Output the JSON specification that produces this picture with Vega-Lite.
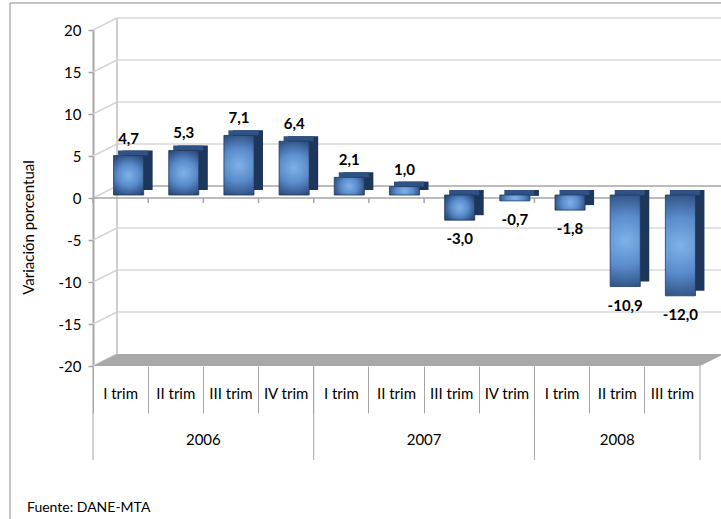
{
  "$schema": "https://vega.github.io/schema/vega-lite/v6.json",
  "width": 607,
  "height": 336,
  "autosize": "none",
  "padding": {"left": 93, "top": 30, "right": 21, "bottom": 153},
  "background": "white",
  "config": {
    "view": {"stroke": null},
    "font": "Lato",
    "locale": {"number": {"decimal": ",", "thousands": ".", "grouping": [3], "currency": ["$", ""], "minus": "-"}}
  },
  "datasets": {
    "q": [
      {"q": "2006 I trim", "anio": "2006", "trim": "I trim", "v": 4.7},
      {"q": "2006 II trim", "anio": "2006", "trim": "II trim", "v": 5.3},
      {"q": "2006 III trim", "anio": "2006", "trim": "III trim", "v": 7.1},
      {"q": "2006 IV trim", "anio": "2006", "trim": "IV trim", "v": 6.4},
      {"q": "2007 I trim", "anio": "2007", "trim": "I trim", "v": 2.1},
      {"q": "2007 II trim", "anio": "2007", "trim": "II trim", "v": 1.0},
      {"q": "2007 III trim", "anio": "2007", "trim": "III trim", "v": -3.0},
      {"q": "2007 IV trim", "anio": "2007", "trim": "IV trim", "v": -0.7},
      {"q": "2008 I trim", "anio": "2008", "trim": "I trim", "v": -1.8},
      {"q": "2008 II trim", "anio": "2008", "trim": "II trim", "v": -10.9},
      {"q": "2008 III trim", "anio": "2008", "trim": "III trim", "v": -12.0}
    ],
    "ticks": [
      {"t": -20}, {"t": -15}, {"t": -10}, {"t": -5}, {"t": 0},
      {"t": 5}, {"t": 10}, {"t": 15}, {"t": 20}
    ],
    "one": [{}]
  },
  "layer": [
    {
      "data": {"name": "q"},
      "mark": {"type": "bar", "width": {"band": 0.545}, "xOffset": 8, "yOffset": -3, "y2Offset": -3, "opacity": 0},
      "encoding": {
        "x": {"field": "q", "type": "nominal", "sort": null,
          "scale": {"type": "band", "paddingInner": 0, "paddingOuter": 0,
            "domain": ["2006 I trim", "2006 II trim", "2006 III trim", "2006 IV trim", "2007 I trim", "2007 II trim", "2007 III trim", "2007 IV trim", "2008 I trim", "2008 II trim", "2008 III trim"]},
          "axis": {"title": null, "domain": false, "grid": false, "bandPosition": 0, "ticks": true, "tickSize": 47, "tickColor": "#a6a6a6", "tickWidth": 1,
            "labelExpr": "slice(datum.label, 5)", "labelOffset": 0, "labelPadding": -20, "labelBaseline": "middle", "labelAlign": "center", "labelAngle": 0,
            "labelFont": "Lato", "labelFontSize": 15, "labelColor": "#000000", "labelOverlap": false, "labelBound": false}},
        "y": {"field": "v", "type": "quantitative",
          "scale": {"domain": [-20, 20], "nice": false, "zero": false},
          "axis": {"title": "Variación porcentual", "values": [-20, -15, -10, -5, 0, 5, 10, 15, 20], "format": "d", "grid": false,
            "domain": true, "domainColor": "#a6a6a6", "domainWidth": 2, "tickColor": "#a6a6a6", "tickSize": 5, "tickWidth": 1.5,
            "labelPadding": 7, "labelFont": "Lato", "labelFontSize": 15, "labelColor": "#000000",
            "titleFont": "Lato", "titleFontSize": 15, "titleFontWeight": "normal", "titleColor": "#000000",
            "titleX": -65, "titleY": 197, "titleAngle": 270, "titleAlign": "center", "titleBaseline": "middle"}},
        "y2": {"datum": 0}
      }
    },
    {
      "data": {"name": "one"},
      "mark": {"type": "rule", "color": "#8c8c8c", "strokeWidth": 1, "xOffset": -83, "x2Offset": 21, "yOffset": -27},
      "encoding": {
        "x": {"datum": "2006 I trim", "type": "nominal", "bandPosition": 0},
        "x2": {"datum": "2008 III trim", "bandPosition": 1},
        "y": {"datum": 20, "type": "quantitative"}
      }
    },
    {
      "data": {"name": "one"},
      "mark": {"type": "rule", "color": "#8c8c8c", "strokeWidth": 1, "xOffset": -83, "yOffset": -27, "y2Offset": 153},
      "encoding": {
        "x": {"datum": "2006 I trim", "type": "nominal", "bandPosition": 0},
        "y": {"datum": 20, "type": "quantitative"},
        "y2": {"datum": -20}
      }
    },
    {
      "data": {"name": "ticks"},
      "transform": [{"filter": "datum.t > -20"}],
      "mark": {"type": "rule", "strokeWidth": 2, "xOffset": 24, "x2Offset": 21, "yOffset": -12},
      "encoding": {
        "x": {"datum": "2006 I trim", "type": "nominal", "bandPosition": 0},
        "x2": {"datum": "2008 III trim", "bandPosition": 1},
        "y": {"field": "t", "type": "quantitative"},
        "color": {"condition": {"test": "datum.t == 0", "value": "#bdbdbd"}, "value": "#e2e2e2"}
      }
    },
    {
      "data": {"name": "ticks"},
      "mark": {"type": "rule", "strokeWidth": 1.5, "color": "#d4d4d4", "x2Offset": 24, "y2Offset": -12},
      "encoding": {
        "x": {"datum": "2006 I trim", "type": "nominal", "bandPosition": 0},
        "x2": {"datum": "2006 I trim", "bandPosition": 0},
        "y": {"field": "t", "type": "quantitative"},
        "y2": {"field": "t"}
      }
    },
    {
      "data": {"name": "one"},
      "mark": {"type": "rule", "color": "#cfcfcf", "strokeWidth": 2, "xOffset": 24, "yOffset": -12, "y2Offset": -12},
      "encoding": {
        "x": {"datum": "2006 I trim", "type": "nominal", "bandPosition": 0},
        "y": {"datum": 20, "type": "quantitative"},
        "y2": {"datum": -20}
      }
    },
    {
      "data": {"name": "one"},
      "mark": {"type": "point", "shape": "M0,0L607,0L631,-12L24,-12Z", "size": 4, "filled": true, "fill": "#a8a8a8", "opacity": 1, "strokeWidth": 0},
      "encoding": {
        "x": {"datum": "2006 I trim", "type": "nominal", "bandPosition": 0},
        "y": {"datum": -20, "type": "quantitative"}
      }
    },
    {
      "data": {"name": "one"},
      "mark": {"type": "rule", "color": "#a6a6a6", "strokeWidth": 1.5},
      "encoding": {
        "x": {"datum": "2006 I trim", "type": "nominal", "bandPosition": 0},
        "x2": {"datum": "2008 III trim", "bandPosition": 1},
        "y": {"datum": 0, "type": "quantitative"}
      }
    },
    {
      "data": {"name": "q"},
      "mark": {"type": "rule", "color": "#a6a6a6", "strokeWidth": 1.5, "y2Offset": 5},
      "encoding": {
        "x": {"field": "q", "type": "nominal", "bandPosition": 0},
        "y": {"datum": 0, "type": "quantitative"},
        "y2": {"datum": 0}
      }
    },
    {
      "data": {"name": "one"},
      "mark": {"type": "rule", "color": "#a6a6a6", "strokeWidth": 1.5, "y2Offset": 5},
      "encoding": {
        "x": {"datum": "2008 III trim", "type": "nominal", "bandPosition": 1},
        "y": {"datum": 0, "type": "quantitative"},
        "y2": {"datum": 0}
      }
    },
    {
      "data": {"name": "q"},
      "transform": [{"filter": "datum.trim == 'I trim'"}],
      "mark": {"type": "rule", "color": "#a6a6a6", "strokeWidth": 1, "y2Offset": 94},
      "encoding": {
        "x": {"field": "q", "type": "nominal", "bandPosition": 0},
        "y": {"datum": -20, "type": "quantitative"},
        "y2": {"datum": -20}
      }
    },
    {
      "data": {"name": "one"},
      "mark": {"type": "rule", "color": "#a6a6a6", "strokeWidth": 1, "y2Offset": 94},
      "encoding": {
        "x": {"datum": "2008 III trim", "type": "nominal", "bandPosition": 1},
        "y": {"datum": -20, "type": "quantitative"},
        "y2": {"datum": -20}
      }
    },
    {
      "data": {"name": "q"},
      "mark": {"type": "bar", "width": {"band": 0.545}, "xOffset": 17, "yOffset": -8, "y2Offset": -8, "color": "#1e365a"},
      "encoding": {
        "x": {"field": "q", "type": "nominal"},
        "y": {"field": "v", "type": "quantitative"},
        "y2": {"datum": 0}
      }
    },
    {
      "data": {"name": "q"},
      "transform": [{"filter": "datum.v >= 0"}],
      "mark": {"type": "bar", "width": {"band": 0.545}, "xOffset": 12.5, "yOffset": -8, "y2Offset": -3, "color": "#2d5283"},
      "encoding": {
        "x": {"field": "q", "type": "nominal"},
        "y": {"field": "v", "type": "quantitative"},
        "y2": {"field": "v"}
      }
    },
    {
      "data": {"name": "q"},
      "transform": [{"filter": "datum.v < 0"}],
      "mark": {"type": "bar", "width": {"band": 0.545}, "xOffset": 12.5, "yOffset": -8, "y2Offset": -3, "color": "#2d5283"},
      "encoding": {
        "x": {"field": "q", "type": "nominal"},
        "y": {"datum": 0, "type": "quantitative"},
        "y2": {"datum": 0}
      }
    },
    {
      "data": {"name": "q"},
      "mark": {"type": "bar", "width": {"band": 0.545}, "xOffset": 8, "yOffset": -3, "y2Offset": -3,
        "fill": {"gradient": "radial", "x1": 0.5, "y1": 0.5, "r1": 0, "x2": 0.5, "y2": 0.5, "r2": 0.62,
          "stops": [{"offset": 0, "color": "#7fb2e8"}, {"offset": 0.45, "color": "#5a8bcb"}, {"offset": 0.8, "color": "#34588c"}, {"offset": 1, "color": "#223f68"}]},
        "stroke": "#1f3a60", "strokeWidth": 0.8},
      "encoding": {
        "x": {"field": "q", "type": "nominal"},
        "y": {"field": "v", "type": "quantitative"},
        "y2": {"datum": 0}
      }
    },
    {
      "data": {"name": "q"},
      "transform": [{"filter": "datum.v >= 0"}],
      "mark": {"type": "text", "xOffset": 8, "dy": -15, "baseline": "alphabetic", "align": "center", "font": "Lato", "fontWeight": "bold", "fontSize": 15, "color": "#000000"},
      "encoding": {
        "x": {"field": "q", "type": "nominal"},
        "y": {"field": "v", "type": "quantitative"},
        "text": {"field": "v", "type": "quantitative", "format": ".1f"}
      }
    },
    {
      "data": {"name": "q"},
      "transform": [{"filter": "datum.v < 0"}],
      "mark": {"type": "text", "xOffset": 8, "dy": 21, "baseline": "alphabetic", "align": "center", "font": "Lato", "fontWeight": "bold", "fontSize": 15, "color": "#000000"},
      "encoding": {
        "x": {"field": "q", "type": "nominal"},
        "y": {"field": "v", "type": "quantitative"},
        "text": {"field": "v", "type": "quantitative", "format": ".1f"}
      }
    },
    {
      "data": {"name": "q"},
      "transform": [{"filter": "datum.anio != '2008' && datum.trim == 'III trim'"}],
      "mark": {"type": "text", "yOffset": 74, "baseline": "middle", "align": "center", "font": "Lato", "fontSize": 15, "color": "#000000"},
      "encoding": {
        "x": {"field": "q", "type": "nominal", "bandPosition": 0},
        "y": {"datum": -20, "type": "quantitative"},
        "text": {"field": "anio", "type": "nominal"}
      }
    },
    {
      "data": {"name": "q"},
      "transform": [{"filter": "datum.anio == '2008' && datum.trim == 'II trim'"}],
      "mark": {"type": "text", "yOffset": 74, "baseline": "middle", "align": "center", "font": "Lato", "fontSize": 15, "color": "#000000"},
      "encoding": {
        "x": {"field": "q", "type": "nominal", "bandPosition": 0.5},
        "y": {"datum": -20, "type": "quantitative"},
        "text": {"field": "anio", "type": "nominal"}
      }
    },
    {
      "data": {"values": [{"fuente": "Fuente: DANE-MTA"}]},
      "mark": {"type": "text", "xOffset": -66, "yOffset": 142, "baseline": "middle", "align": "left", "font": "Lato", "fontSize": 14, "color": "#000000"},
      "encoding": {
        "x": {"datum": "2006 I trim", "type": "nominal", "bandPosition": 0},
        "y": {"datum": -20, "type": "quantitative"},
        "text": {"field": "fuente", "type": "nominal"}
      }
    }
  ]
}
